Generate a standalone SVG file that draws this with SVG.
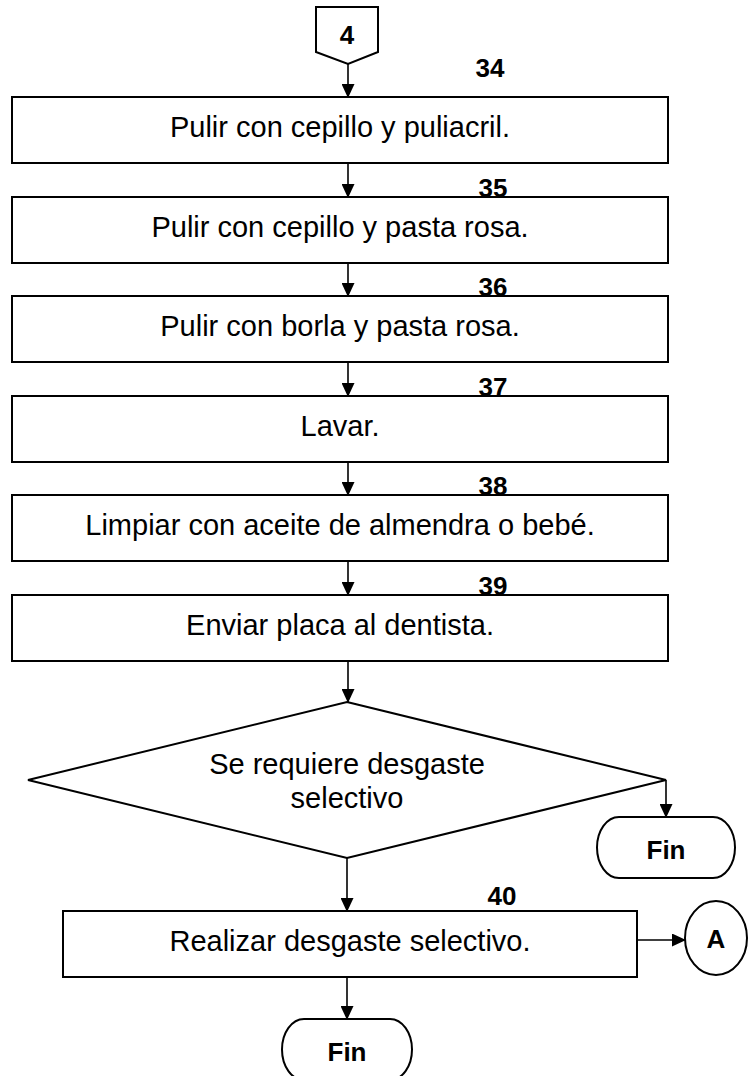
<svg xmlns="http://www.w3.org/2000/svg" width="750" height="1076" viewBox="0 0 750 1076">
<defs>
<marker id="ah" markerWidth="14" markerHeight="13" refX="13" refY="6.5" orient="auto" markerUnits="userSpaceOnUse">
<path d="M0,0 L14,6.5 L0,13 Z" fill="#000"/>
</marker>
<style>
.box{fill:#fff;stroke:#000;stroke-width:2}
.t{font-family:"Liberation Sans",Arial,sans-serif;font-size:29px;fill:#000;text-anchor:middle}
.n{font-family:"Liberation Sans",Arial,sans-serif;font-size:26px;font-weight:bold;fill:#000;text-anchor:middle}
.c{fill:none;stroke:#000;stroke-width:1.6;marker-end:url(#ah)}
</style>
</defs>
<rect width="750" height="1076" fill="#fff"/>
<g id="connectors">
<line class="c" x1="348" y1="64" x2="348" y2="97"/>
<line class="c" x1="348" y1="163" x2="348" y2="197"/>
<line class="c" x1="348" y1="263" x2="348" y2="296"/>
<line class="c" x1="348" y1="362" x2="348" y2="396"/>
<line class="c" x1="348" y1="462" x2="348" y2="495"/>
<line class="c" x1="348" y1="561" x2="348" y2="595"/>
<line class="c" x1="348" y1="661" x2="348" y2="702"/>
<line class="c" x1="666" y1="780" x2="666" y2="817"/>
<line class="c" x1="347" y1="858" x2="347" y2="911"/>
<line class="c" x1="637" y1="940" x2="685" y2="940"/>
<line class="c" x1="347" y1="977" x2="347" y2="1019"/>
</g>
<g id="n4">
<path d="M316,7 L378,7 L378,52 L348,64 L316,52 Z" class="box"/>
<text class="n" x="347" y="44">4</text>
</g>
<g id="n34">
<rect class="box" x="12" y="97" width="656" height="66"/>
<text class="t" x="340" y="137">Pulir con cepillo y puliacril.</text>
<text class="n" x="490" y="77">34</text>
</g>
<g id="n35">
<rect class="box" x="12" y="197" width="656" height="66"/>
<text class="t" x="340" y="237">Pulir con cepillo y pasta rosa.</text>
<text class="n" x="493" y="197">35</text>
</g>
<g id="n36">
<rect class="box" x="12" y="296" width="656" height="66"/>
<text class="t" x="340" y="336">Pulir con borla y pasta rosa.</text>
<text class="n" x="493" y="296">36</text>
</g>
<g id="n37">
<rect class="box" x="12" y="396" width="656" height="66"/>
<text class="t" x="340" y="436">Lavar.</text>
<text class="n" x="493" y="396">37</text>
</g>
<g id="n38">
<rect class="box" x="12" y="495" width="656" height="66"/>
<text class="t" x="340" y="535">Limpiar con aceite de almendra o bebé.</text>
<text class="n" x="493" y="495">38</text>
</g>
<g id="n39">
<rect class="box" x="12" y="595" width="656" height="66"/>
<text class="t" x="340" y="635">Enviar placa al dentista.</text>
<text class="n" x="493" y="595">39</text>
</g>
<g id="decision">
<path class="box" d="M347,702 L666,780 L347,858 L28,780 Z"/>
<text class="t" x="347" y="774">Se requiere desgaste</text>
<text class="t" x="347" y="808">selectivo</text>
</g>
<g id="fin1">
<path class="box" d="M619,817 L713,817 A22,30.5 0 0 1 713,878 L619,878 A22,30.5 0 0 1 619,817 Z"/>
<text class="n" x="666" y="859">Fin</text>
</g>
<g id="n40">
<rect class="box" x="63" y="911" width="574" height="66"/>
<text class="t" x="350" y="951">Realizar desgaste selectivo.</text>
<text class="n" x="502" y="905">40</text>
</g>
<g id="A">
<ellipse class="box" cx="716" cy="938" rx="31" ry="37"/>
<text class="n" x="716" y="948">A</text>
</g>
<g id="fin2">
<path class="box" d="M304,1019 L390,1019 A22,30.5 0 0 1 390,1080 L304,1080 A22,30.5 0 0 1 304,1019 Z"/>
<text class="n" x="347" y="1061">Fin</text>
</g>
</svg>
